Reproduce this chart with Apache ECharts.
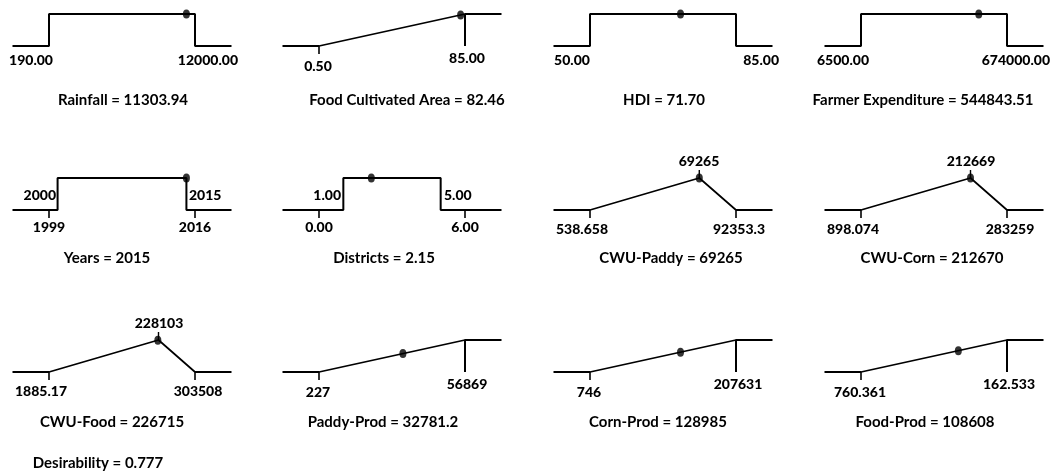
<!DOCTYPE html>
<html>
<head>
<meta charset="utf-8">
<script src="https://cdn.jsdelivr.net/npm/echarts@6/dist/echarts.min.js"></script>
<style>
  html, body { margin: 0; padding: 0; background: #ffffff; }
  #chart { width: 1057px; height: 471px; }
</style>
</head>
<body>
<div id="chart"></div>
<script>
// Desirability ramps: one small panel per factor / response.
const panelNames = ['Rainfall', 'Food Cultivated Area', 'HDI', 'Farmer Expenditure',
  'Years', 'Districts', 'CWU-Paddy', 'CWU-Corn',
  'CWU-Food', 'Paddy-Prod', 'Corn-Prod', 'Food-Prod'];
const goalTypes = ['range', 'max', 'range', 'range',
  'range', 'range', 'target', 'target',
  'target', 'max', 'max', 'max'];
// Variable range (ends of each axis)
const rangeLow = [190, 0.5, 50, 6500, 1999, 0, 538.658, 898.074, 1885.17, 227, 746, 760.361];
const rangeHigh = [12000, 85, 85, 674000, 2016, 6, 92353.3, 283259, 303508, 56869, 207631, 162533];
// Goal limits
const goalLow = [190, 0.5, 50, 6500, 2000, 1, 538.658, 898.074, 1885.17, 227, 746, 760.361];
const goalHigh = [12000, 85, 85, 674000, 2015, 5, 92353.3, 283259, 303508, 56869, 207631, 162533];
const targets = [null, null, null, null, null, null, 69265, 212669, 228103, null, null, null];
// Optimal solution
const solution = [11303.94, 82.46, 71.70, 544843.51, 2015, 2.15, 69265, 212670, 226715, 32781.2, 128985, 108608];
const solutionText = ['11303.94', '82.46', '71.70', '544843.51', '2015', '2.15', '69265', '212670', '226715', '32781.2', '128985', '108608'];
// Printed limit labels
const lowLabels = ['190.00', '0.50', '50.00', '6500.00', '1999', '0.00', '538.658', '898.074', '1885.17', '227', '746', '760.361'];
const highLabels = ['12000.00', '85.00', '85.00', '674000.00', '2016', '6.00', '92353.3', '283259', '303508', '56869', '207631', '162.533'];
const goalLowLabels = [null, null, null, null, '2000', '1.00', null, null, null, null, null, null];
const goalHighLabels = [null, null, null, null, '2015', '5.00', null, null, null, null, null, null];
const targetLabels = [null, null, null, null, null, null, '69265', '212669', '228103', null, null, null];
const overallDesirability = '0.777';

// ---- layout / style ----
const FONT_FAMILY = 'Lato';
const TITLE_FONT = 'bold 15px ' + FONT_FAMILY;
const LABEL_FONT = '900 14px ' + FONT_FAMILY;
const colLowPx = [49, 319, 590, 861];     // pixel x of the low limit per column
const SPAN = 146;                          // pixels between low and high limit
const rowBase = [46, 210, 372];            // pixel y of desirability 0
const RAMP_H = 32;                         // pixels for desirability 0..1
const titleX = [123, 407, 664, 923, 107, 384, 671, 932, 112, 383, 658, 925];
const titleY = [100, 258, 422];

function desirabilityAt(i) {
  const x = solution[i], lo = goalLow[i], hi = goalHigh[i];
  if (goalTypes[i] === 'range') return (x >= lo && x <= hi) ? 1 : 0;
  if (goalTypes[i] === 'max') return Math.min(1, Math.max(0, (x - lo) / (hi - lo)));
  const t = targets[i];
  if (x <= t) return Math.max(0, (x - lo) / (t - lo));
  return Math.max(0, (hi - x) / (hi - t));
}

const grids = [], xAxes = [], yAxes = [], series = [], labelSpecs = [];

function addLine(i, pts, width) {
  series.push({
    type: 'line', xAxisIndex: i, yAxisIndex: i, data: pts,
    symbol: 'none', clip: false, silent: true, z: 2,
    lineStyle: { color: '#000', width: width || 2 }
  });
}

panelNames.forEach(function (name, i) {
  const col = i % 4, row = Math.floor(i / 4);
  const lo = rangeLow[i], hi = rangeHigh[i];
  const ext = (hi - lo) * 0.25;
  const xMin = lo - ext, xMax = hi + ext;
  const gl = goalLow[i], gh = goalHigh[i];
  const type = goalTypes[i];

  grids.push({ left: colLowPx[col] - SPAN * 0.25, top: rowBase[row] - RAMP_H, width: SPAN * 1.5, height: RAMP_H });
  xAxes.push({ gridIndex: i, type: 'value', min: xMin, max: xMax, show: false });
  yAxes.push({ gridIndex: i, type: 'value', min: 0, max: 1, show: false });

  const add = function (value, text, dx, dy, align) {
    labelSpecs.push({ grid: i, value: value, text: text, dx: dx, dy: dy, align: align });
  };
  const TICK = -0.25;
  if (type === 'range') {
    addLine(i, [[xMin, 0], [gl, 0], [gl, 1], [gh, 1], [gh, 0], [xMax, 0]]);
    if (gl > lo) {
      addLine(i, [[lo, 0], [lo, TICK]], 1.6);
      add([lo, 0], lowLabels[i], 0, 17, 'center');
      add([gl, 0], goalLowLabels[i], -2, -15, 'right');
    } else {
      add([(xMin + lo) / 2, 0], lowLabels[i], 0, 14, 'center');
    }
    if (gh < hi) {
      addLine(i, [[hi, 0], [hi, TICK]], 1.6);
      add([hi, 0], highLabels[i], 0, 17, 'center');
      add([gh, 0], goalHighLabels[i], 3, -15, 'left');
    } else {
      add([xMax, 0], highLabels[i], 6, 14, 'right');
    }
  } else if (type === 'max') {
    addLine(i, [[xMin, 0], [gl, 0]]);
    addLine(i, [[gl, 0], [gh, 1]], 1.7);
    addLine(i, [[gh, 0], [gh, 1], [xMax, 1]]);
    addLine(i, [[lo, 0], [lo, TICK]], 1.6);
    add([lo, 0], lowLabels[i], -1, 20, 'center');
    add([hi, 0], highLabels[i], 2, 12, 'center');
  } else {
    const t = targets[i];
    addLine(i, [[xMin, 0], [gl, 0]]);
    addLine(i, [[gl, 0], [t, 1], [gh, 0]], 1.7);
    addLine(i, [[gh, 0], [xMax, 0]]);
    addLine(i, [[lo, 0], [lo, TICK]], 1.6);
    addLine(i, [[hi, 0], [hi, TICK]], 1.6);
    addLine(i, [[t, 1], [t, 1 - TICK]], 1.4);
    add([lo, 0], lowLabels[i], -8, 19, 'center');
    add([hi, 0], highLabels[i], 3, 19, 'center');
    add([t, 1], targetLabels[i], 0, -17, 'center');
  }

  // solution point
  series.push({
    type: 'scatter', xAxisIndex: i, yAxisIndex: i, symbol: 'circle', symbolSize: [7, 9],
    clip: false, silent: true, z: 4, itemStyle: { color: '#000' },
    data: [[solution[i], desirabilityAt(i)]]
  });
});

const chart = echarts.init(document.getElementById('chart'), null, { renderer: 'canvas' });
chart.setOption({
  backgroundColor: '#ffffff',
  animation: false,
  grid: grids,
  xAxis: xAxes,
  yAxis: yAxes,
  series: series
});

// Limit labels placed through each panel's own scales (snapped to whole pixels), plus titles.
const graphics = labelSpecs.map(function (l) {
  const p = chart.convertToPixel({ gridIndex: l.grid }, l.value);
  return {
    type: 'text', x: Math.round(p[0] + l.dx), y: Math.round(p[1] + l.dy), silent: true,
    style: { text: l.text, font: LABEL_FONT, fill: '#000', align: l.align, verticalAlign: 'middle' }
  };
});
panelNames.forEach(function (name, i) {
  graphics.push({
    type: 'text', x: titleX[i], y: titleY[Math.floor(i / 4)], silent: true,
    style: { text: name + ' = ' + solutionText[i], font: TITLE_FONT, fill: '#000', align: 'center', verticalAlign: 'middle' }
  });
});
graphics.push({
  type: 'text', x: 98, y: 463, silent: true,
  style: { text: 'Desirability = ' + overallDesirability, font: TITLE_FONT, fill: '#000', align: 'center', verticalAlign: 'middle' }
});
chart.setOption({ graphic: graphics });
</script>
</body>
</html>
